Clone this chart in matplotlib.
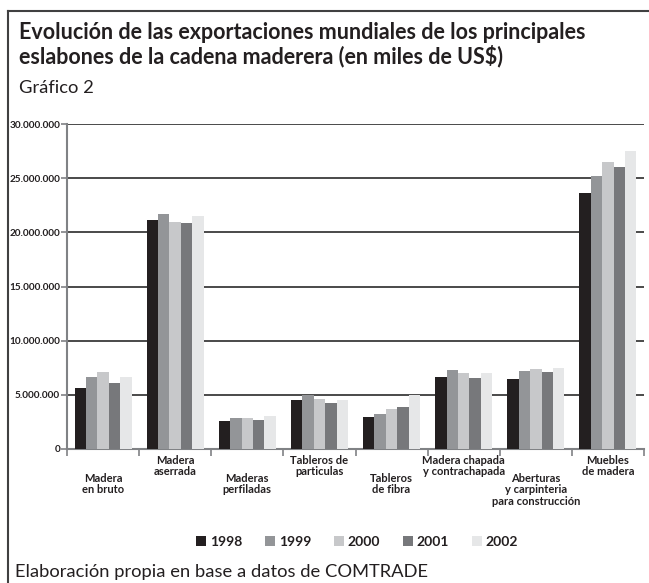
import numpy as np
import matplotlib
matplotlib.use('Agg')
import matplotlib.pyplot as plt
from matplotlib.patches import Patch
from matplotlib.lines import Line2D
from matplotlib.ticker import FuncFormatter

# exportaciones mundiales, miles de US$
categories = ['Madera\nen bruto', 'Madera\naserrada', 'Maderas\nperfiladas',
              'Tableros de\nparticulas', 'Tableros\nde fibra',
              'Madera chapada\ny contrachapada',
              'Aberturas\ny carpinteria\npara construcción',
              'Muebles\nde madera']
years = ['1998', '1999', '2000', '2001', '2002']
v1998 = [5660000, 21170000, 2620000, 4550000, 2980000, 6680000, 6490000, 23660000]
v1999 = [6680000, 21720000, 2890000, 5020000, 3260000, 7320000, 7230000, 25230000]
v2000 = [7140000, 20980000, 2890000, 4650000, 3720000, 7050000, 7420000, 26520000]
v2001 = [6120000, 20890000, 2710000, 4280000, 3910000, 6580000, 7140000, 26060000]
v2002 = [6680000, 21540000, 3080000, 4550000, 5020000, 7050000, 7510000, 27540000]
colors = ['#231f20', '#939598', '#c7c8ca', '#77787b', '#e6e7e8']

FONT = ['Lato', 'DejaVu Sans']
plt.rcParams['font.family'] = FONT

W, H = 649, 583
fig = plt.figure(figsize=(W / 100, H / 100), dpi=100)
ax = fig.add_axes([67 / W, 1 - 449 / H, 577 / W, 325 / H])

series = [v1998, v1999, v2000, v2001, v2002]
x = np.arange(len(categories))
bw = 0.158
for i, vals in enumerate(series):
    ax.bar(x + (i - 2) * bw, vals, bw, color=colors[i], zorder=3, linewidth=0)

ax.set_xlim(-0.5, len(categories) - 0.5)
ax.set_ylim(0, 30000000)
ax.set_yticks(np.arange(0, 30000001, 5000000))
ax.yaxis.set_major_formatter(FuncFormatter(lambda v, p: f'{int(v):,}'.replace(',', '.')))
for t in ax.get_yticklabels():
    t.set_fontweight('bold')
ax.tick_params(axis='y', length=4, width=1.2, color='#808285', labelsize=7.2,
               pad=1, labelcolor='#231f20')
ax.grid(axis='y', color='#2b2b2b', linewidth=1.2, zorder=1)

ax.set_xticks(np.arange(-0.5, len(categories), 1.0))
ax.set_xticklabels([])
ax.tick_params(axis='x', length=5, width=1.2, color='#808285')

for s in ['top', 'right']:
    ax.spines[s].set_visible(False)
for s in ['left', 'bottom']:
    ax.spines[s].set_color('#808285')
    ax.spines[s].set_linewidth(1.5)

# staggered category labels
for i, lab in enumerate(categories):
    dy = -24 if i % 2 == 0 else -6
    ax.annotate(lab, xy=(x[i], 0), xycoords=('data', 'axes fraction'),
                xytext=(0, dy * 0.72), textcoords='offset points',
                ha='center', va='top', fontsize=8, fontweight='bold',
                color='#231f20', linespacing=1.05)

fig.text(19 / W, 1 - 39 / H,
         'Evolución de las exportaciones mundiales de los principales',
         fontsize=15.5, fontweight='bold', color='#231f20', va='baseline')
fig.text(19 / W, 1 - 63 / H,
         'eslabones de la cadena maderera (en miles de US$)',
         fontsize=15.5, fontweight='bold', color='#231f20', va='baseline')
fig.text(19 / W, 1 - 93 / H, 'Gráfico 2', fontsize=13.2, color='#231f20',
         va='baseline')
fig.text(15 / W, 1 - 577 / H, 'Elaboración propia en base a datos de COMTRADE',
         fontsize=13.2, color='#231f20', va='baseline')

handles = [Patch(facecolor=c, edgecolor='none') for c in colors]
leg = fig.legend(handles, years, loc='center', bbox_to_anchor=(357 / W, 1 - 542 / H),
                 ncol=5, frameon=False, handlelength=0.72, handleheight=0.72,
                 handletextpad=0.25, columnspacing=1.65,
                 prop={'family': FONT, 'weight': 'bold', 'size': 10})
for t in leg.get_texts():
    t.set_color('#231f20')

# outer frame (top and left edges)
fig.add_artist(Line2D([8 / W, 1.0], [1 - 11 / H, 1 - 11 / H], transform=fig.transFigure,
                      color='#404041', linewidth=1.5))
fig.add_artist(Line2D([8 / W, 8 / W], [0.0, 1 - 11 / H], transform=fig.transFigure,
                      color='#404041', linewidth=1.5))

fig.savefig('out.png', dpi=100)
